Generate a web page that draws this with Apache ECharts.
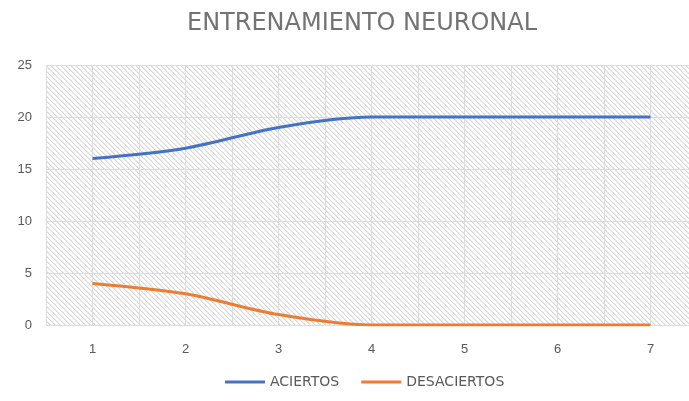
<!DOCTYPE html>
<html>
<head>
<meta charset="utf-8">
<script src="https://cdn.jsdelivr.net/npm/echarts@6/dist/echarts.min.js"></script>
<style>
  html, body { margin: 0; padding: 0; background: #fff; }
  #chart { width: 689px; height: 401px; }
</style>
</head>
<body>
<div id="chart"></div>
<script>
// Training epochs and results per epoch
const epochs = [1, 2, 3, 4, 5, 6, 7];
const aciertos = [16, 17, 19, 20, 20, 20, 20];
const desaciertos = [4, 3, 1, 0, 0, 0, 0];
const yTicks = [0, 5, 10, 15, 20, 25];

// Diagonal hatch tile used as plot-area background
function hatchTile() {
  const size = 5;
  const c = document.createElement('canvas');
  c.width = size; c.height = size;
  const ctx = c.getContext('2d');
  const img = ctx.createImageData(size, size);
  for (let y = 0; y < size; y++) {
    for (let x = 0; x < size; x++) {
      const d = ((x - y) % size + size) % size;
      let v = 255;
      if (d === 0) v = 216;
      else if (d === 1) v = 234;
      const i = (y * size + x) * 4;
      img.data[i] = v; img.data[i + 1] = v; img.data[i + 2] = v; img.data[i + 3] = 255;
    }
  }
  ctx.putImageData(img, 0, 0);
  return c;
}

const chart = echarts.init(document.getElementById('chart'), null, { renderer: 'canvas' });

const pairs = (vals) => epochs.map((e, i) => [e, vals[i]]);

chart.setOption({
  animation: false,
  title: {
    text: 'ENTRENAMIENTO NEURONAL',
    left: 182,
    top: 7,
    textStyle: {
      fontFamily: 'DejaVu Sans',
      fontSize: 24,
      fontWeight: 'normal',
      color: '#737373'
    }
  },
  grid: {
    left: 46,
    top: 65,
    width: 651,
    height: 260,
    outerBoundsMode: 'none',
    show: true,
    borderWidth: 0,
    backgroundColor: { image: hatchTile(), repeat: 'repeat' }
  },
  legend: {
    bottom: 7,
    left: 220,
    itemWidth: 40,
    itemHeight: 3,
    itemGap: 22,
    icon: 'rect',
    textStyle: { fontFamily: 'DejaVu Sans', fontSize: 14, color: '#595959' },
    data: ['ACIERTOS', 'DESACIERTOS']
  },
  xAxis: {
    type: 'value',
    min: 0.5,
    max: 7.5,
    interval: 0.5,
    axisLine: { show: false },
    axisTick: { show: false },
    splitLine: { show: true, lineStyle: { color: '#dcdcdc', width: 1 } },
    axisLabel: {
      margin: 18,
      fontFamily: 'Liberation Sans',
      fontSize: 13,
      color: '#595959',
      formatter: (v) => (epochs.indexOf(v) >= 0 ? String(v) : '')
    }
  },
  yAxis: {
    type: 'value',
    min: yTicks[0],
    max: yTicks[yTicks.length - 1],
    interval: 5,
    axisLine: { show: false },
    axisTick: { show: false },
    splitLine: { show: true, lineStyle: { color: '#dcdcdc', width: 1 } },
    axisLabel: {
      margin: 14,
      fontFamily: 'Liberation Sans',
      fontSize: 13,
      color: '#595959'
    }
  },
  series: [
    {
      name: 'ACIERTOS',
      type: 'line',
      data: pairs(aciertos),
      smooth: 0.3,
      symbol: 'none',
      lineStyle: { color: '#4472C4', width: 3 },
      itemStyle: { color: '#4472C4' }
    },
    {
      name: 'DESACIERTOS',
      type: 'line',
      data: pairs(desaciertos),
      smooth: 0.3,
      symbol: 'none',
      lineStyle: { color: '#ED7D31', width: 3 },
      itemStyle: { color: '#ED7D31' }
    }
  ]
});
</script>
</body>
</html>
